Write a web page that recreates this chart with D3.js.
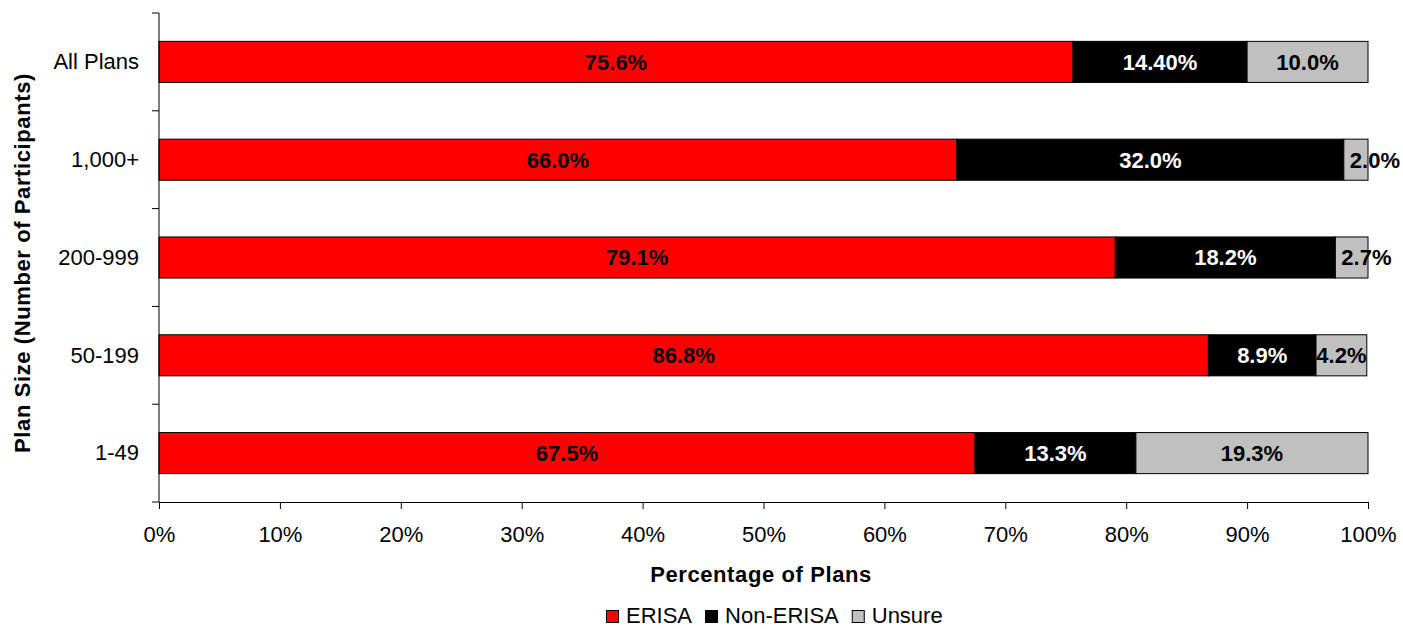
<!DOCTYPE html>
<html>
<head>
<meta charset="utf-8">
<script src="https://cdn.jsdelivr.net/npm/d3@7"></script>
<style>
  body { margin: 0; background: #fff; }
  text { font-family: "Liberation Sans", Arial, sans-serif; }
</style>
</head>
<body>
<svg id="chart" width="1403" height="629"></svg>
<script>
// Chart data
const categories = ['All Plans', '1,000+', '200-999', '50-199', '1-49'];
const seriesNames = ['ERISA', 'Non-ERISA', 'Unsure'];
const erisa = [75.6, 66.0, 79.1, 86.8, 67.5];
const nonErisa = [14.4, 32.0, 18.2, 8.9, 13.3];
const unsure = [10.0, 2.0, 2.7, 4.2, 19.3];
const labelText = [
  ['75.6%', '14.40%', '10.0%'],
  ['66.0%', '32.0%', '2.0%'],
  ['79.1%', '18.2%', '2.7%'],
  ['86.8%', '8.9%', '4.2%'],
  ['67.5%', '13.3%', '19.3%']
];
const xTicks = [0, 10, 20, 30, 40, 50, 60, 70, 80, 90, 100];

const colours = ['#ff0000', '#000000', '#c0c0c0'];
const labelColours = ['#000', '#fff', '#000'];
const fontSize = 22;

// Layout
const svg = d3.select('#chart');
const margin = { left: 159, right: 35, top: 13, bottom: 127 };
const width = 1403, height = 629;

const x = d3.scaleLinear()
  .domain([0, 100])
  .range([margin.left, width - margin.right]);

const y = d3.scaleBand()
  .domain(categories)
  .range([margin.top, height - margin.bottom])
  .paddingInner(0.58)
  .paddingOuter(0.29);

// Build stacked rows
const rows = categories.map((c, i) => ({
  cat: c, ERISA: erisa[i], 'Non-ERISA': nonErisa[i], Unsure: unsure[i], i
}));
const stack = d3.stack().keys(seriesNames)(rows);

// Bars
stack.forEach((layer, si) => {
  svg.append('g')
    .selectAll('rect')
    .data(layer)
    .join('rect')
    .attr('x', d => x(d[0]))
    .attr('y', d => y(d.data.cat))
    .attr('width', d => Math.max(0, Math.min(x(100), x(d[1])) - x(d[0])))
    .attr('height', y.bandwidth())
    .attr('fill', colours[si])
    .attr('stroke', '#000')
    .attr('stroke-width', 1);
});

// Labels - centred in the segment; when the text is wider than the
// segment it starts near the segment's left edge, like Excel does
stack.forEach((layer, si) => {
  svg.append('g')
    .selectAll('text')
    .data(layer)
    .join('text')
    .attr('y', d => y(d.data.cat) + y.bandwidth() / 2)
    .attr('dy', '0.36em')
    .attr('font-size', fontSize)
    .attr('font-weight', 'bold')
    .attr('fill', labelColours[si])
    .text(d => labelText[d.data.i][si])
    .each(function(d) {
      const x0 = x(d[0]), x1 = x(Math.min(100, d[1]));
      const w = this.getComputedTextLength();
      const left = (w > x1 - x0) ? x0 + 6 : (x0 + x1) / 2 - w / 2;
      d3.select(this).attr('x', left);
    });
});

// Y axis (with band-boundary ticks)
const axisY = svg.append('g');
axisY.append('line')
  .attr('x1', margin.left).attr('x2', margin.left)
  .attr('y1', margin.top).attr('y2', height - margin.bottom)
  .attr('stroke', '#000');
const yBounds = d3.range(categories.length + 1).map(k =>
  margin.top + k * (height - margin.bottom - margin.top) / categories.length);
axisY.selectAll('line.tick')
  .data(yBounds)
  .join('line')
  .attr('class', 'tick')
  .attr('x1', margin.left - 7).attr('x2', margin.left)
  .attr('y1', d => d).attr('y2', d => d)
  .attr('stroke', '#000');
axisY.selectAll('text')
  .data(categories)
  .join('text')
  .attr('x', margin.left - 20)
  .attr('y', d => y(d) + y.bandwidth() / 2)
  .attr('dy', '0.33em')
  .attr('text-anchor', 'end')
  .attr('font-size', fontSize)
  .text(d => d);

// X axis
const xAxis = d3.axisBottom(x)
  .tickValues(xTicks)
  .tickFormat(d => d + '%')
  .tickSize(7)
  .tickPadding(17);
const gx = svg.append('g')
  .attr('transform', `translate(0,${height - margin.bottom})`)
  .call(xAxis);
gx.select('.domain').attr('stroke', '#000');
gx.selectAll('.tick line').attr('stroke', '#000');
gx.selectAll('.tick text')
  .attr('font-size', fontSize)
  .attr('font-family', '"Liberation Sans", Arial, sans-serif')
  .attr('fill', '#000');

// Axis titles
svg.append('text')
  .attr('x', 761)
  .attr('y', 582)
  .attr('text-anchor', 'middle')
  .attr('font-size', fontSize)
  .attr('font-weight', 'bold')
  .attr('letter-spacing', 0.6)
  .text('Percentage of Plans');

svg.append('text')
  .attr('transform', `translate(30,263) rotate(-90)`)
  .attr('text-anchor', 'middle')
  .attr('font-size', fontSize)
  .attr('font-weight', 'bold')
  .attr('letter-spacing', 0.6)
  .text('Plan Size (Number of Participants)');

// Legend
const legend = svg.append('g').attr('transform', 'translate(606,623)');
let lx = 0;
seriesNames.forEach((name, i) => {
  const g = legend.append('g').attr('transform', `translate(${lx},0)`);
  g.append('rect')
    .attr('x', 0.5).attr('y', -12.5)
    .attr('width', 12).attr('height', 12)
    .attr('fill', colours[i])
    .attr('stroke', '#000');
  const t = g.append('text')
    .attr('x', 20).attr('y', 0)
    .attr('font-size', fontSize)
    .text(name);
  lx += 20 + t.node().getComputedTextLength() + 13;
});
</script>
</body>
</html>
